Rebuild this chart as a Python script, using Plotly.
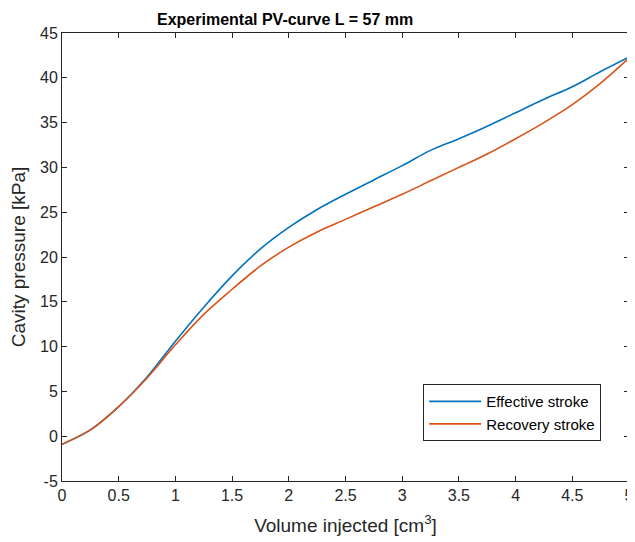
import plotly.graph_objects as go

volume = [0, 0.25, 0.5, 0.75, 1.0, 1.25, 1.5, 1.75, 2.0, 2.25, 2.5, 2.75,
          3.0, 3.25, 3.5, 3.75, 4.0, 4.25, 4.5, 4.75, 5.0]
effective = [-0.9, 0.7, 3.3, 6.6, 10.6, 14.4, 17.9, 20.9, 23.3, 25.3, 27.0, 28.6,
             30.2, 31.9, 33.2, 34.6, 36.1, 37.6, 39.0, 40.7, 42.3]
recovery = [-0.9, 0.7, 3.3, 6.5, 10.2, 13.6, 16.4, 19.0, 21.1, 22.8, 24.2, 25.6,
            27.0, 28.5, 30.0, 31.5, 33.2, 35.0, 37.0, 39.4, 42.2]

xticks = [0, 0.5, 1, 1.5, 2, 2.5, 3, 3.5, 4, 4.5, 5]
yticks = [-5, 0, 5, 10, 15, 20, 25, 30, 35, 40, 45]

FONT = "Liberation Sans, Arial, sans-serif"

fig = go.Figure()
fig.add_trace(go.Scatter(x=volume, y=effective, mode="lines", name="Effective stroke",
                         line=dict(color="#0072BD", width=1.6, shape="spline")))
fig.add_trace(go.Scatter(x=volume, y=recovery, mode="lines", name="Recovery stroke",
                         line=dict(color="#D95319", width=1.6, shape="spline")))

axis_common = dict(showgrid=False, zeroline=False, ticks="inside", ticklen=5,
                   tickcolor="#262626", linecolor="#262626", linewidth=1,
                   mirror="ticks", showline=True, automargin=False,
                   tickfont=dict(family=FONT, size=16, color="#262626"))

fig.update_layout(
    width=627, height=534,
    margin=dict(l=54, r=6, t=25, b=61),
    paper_bgcolor="white", plot_bgcolor="white",
    title=dict(text="<b>Experimental PV-curve L = 57 mm</b>", x=0.442, xanchor="center",
               y=0.978, yanchor="middle",
               font=dict(family=FONT, size=16, color="black")),
    xaxis=dict(range=[0, 5], tickvals=xticks, ticktext=[str(t) for t in xticks],
               title=dict(text="Volume injected [cm<sup>3</sup>]",
                          font=dict(family=FONT, size=19, color="#262626"), standoff=15),
               **axis_common),
    yaxis=dict(range=[-5, 45], tickvals=yticks, ticktext=[str(t) for t in yticks],
               title=dict(text="Cavity pressure [kPa]",
                          font=dict(family=FONT, size=19, color="#262626"), standoff=20),
               **axis_common),
    legend=dict(x=0.951, y=0.089, xanchor="right", yanchor="bottom",
                bgcolor="white", bordercolor="#262626", borderwidth=1,
                font=dict(family=FONT, size=15, color="black"),
                tracegroupgap=0, itemwidth=52),
    showlegend=True,
)

fig.write_html("out.html")
